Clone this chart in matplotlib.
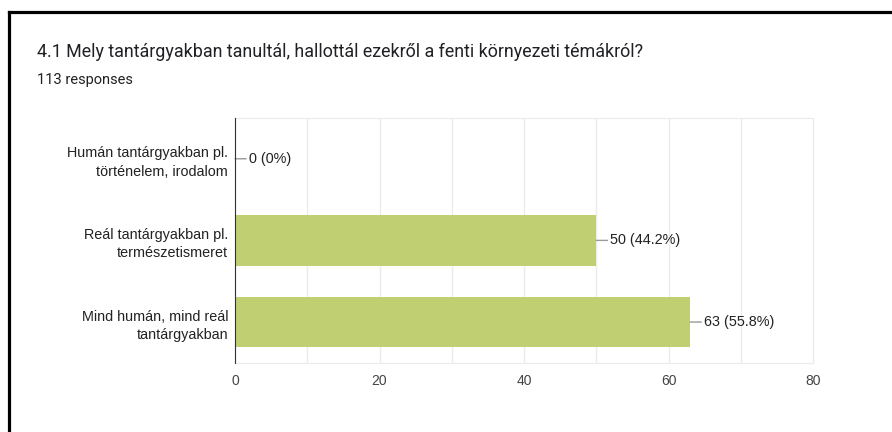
import numpy as np
import matplotlib as mpl
mpl.use('agg')
import matplotlib.pyplot as plt
from matplotlib.lines import Line2D

title = "4.1 Mely tantárgyakban tanultál, hallottál ezekről a fenti környezeti témákról?"
subtitle = "113 responses"
categories = ["Humán tantárgyakban pl.\ntörténelem, irodalom",
              "Reál tantárgyakban pl.\ntermészetismeret",
              "Mind humán, mind reál\ntantárgyakban"]
counts = [0, 50, 63]
percents = ["0%", "44.2%", "55.8%"]
xticks = [0, 20, 40, 60, 80]

plt.rcParams['font.family'] = ['Liberation Sans', 'DejaVu Sans']

fig = plt.figure(figsize=(8.92, 4.32), dpi=100)
ax = fig.add_axes([0.2635, 0.16, 0.648, 0.567])

y = np.arange(len(categories))
ax.barh(y, counts, height=0.62, color='#c0cf72', zorder=2)
ax.set_ylim(len(categories) - 0.5, -0.5)
ax.set_xlim(0, 80)
ax.set_yticks(y)
ax.set_yticklabels(categories, fontsize=10.4, color='#222222', linespacing=1.4)
ax.set_xticks(xticks)
ax.set_xticklabels([str(t) for t in xticks], fontsize=10, color='#444444')
ax.set_xticks(np.arange(10, 80, 20), minor=True)
ax.tick_params(axis='both', which='both', length=0)
ax.tick_params(axis='x', pad=8)
ax.tick_params(axis='y', pad=5)
ax.grid(axis='x', which='both', color='#ebebeb', linewidth=1, zorder=0)
for s in ['top', 'right', 'bottom']:
    ax.spines[s].set_color('#ebebeb')
ax.spines['left'].set_color('#333333')
ax.spines['left'].set_zorder(3)

for yi, c, p in zip(y, counts, percents):
    ax.annotate(f"{c} ({p})", xy=(c, yi), xytext=(10, 0), textcoords='offset points',
                ha='left', va='center', fontsize=10.4, color='#222222',
                arrowprops=dict(arrowstyle='-', color='#999999', lw=1,
                                shrinkA=0, shrinkB=0))

fig.text(37 / 892, 1 - 52 / 432, title, fontsize=12.9, family='Roboto',
         color='#202124', va='center', ha='left')
fig.text(37 / 892, 1 - 80 / 432, subtitle, fontsize=10.5, family='Roboto',
         color='#202124', va='center', ha='left')

# black frame on left and top
fig.add_artist(Line2D([9 / 892, 1], [1 - 12 / 432, 1 - 12 / 432], color='black', lw=2.3,
                      transform=fig.transFigure))
fig.add_artist(Line2D([9 / 892, 9 / 892], [0, 1 - 12 / 432], color='black', lw=2.3,
                      transform=fig.transFigure))

fig.savefig('out.png', dpi=100)
